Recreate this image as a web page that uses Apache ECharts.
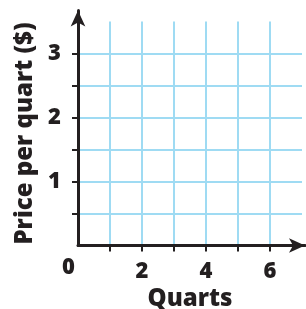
<!DOCTYPE html>
<html lang="en">
<head>
    <meta charset="UTF-8">
    <title>Price per quart</title>
    <script src="https://cdn.jsdelivr.net/npm/echarts@6/dist/echarts.min.js"></script>
    <style>
        html, body { margin: 0; padding: 0; background: #fff; }
        #main { width: 306px; height: 309px; }
    </style>
</head>
<body>
<div id="main"></div>
<script type="text/javascript">
    // axis ranges and tick/label values
    var xRange = [0, 7];
    var yRange = [0, 3.5];
    var xTicks = [1, 2, 3, 4, 5, 6];
    var yTicks = [0.5, 1, 1.5, 2, 2.5, 3];
    var xLabels = [0, 2, 4, 6];
    var yLabels = [1, 2, 3];
    var xName = 'Quarts';
    var yName = 'Price per quart ($)';

    var ink = '#231f20';
    var gridBlue = '#9fdbf3';
    var font = 'Open Sans';

    var myChart = echarts.init(document.getElementById('main'));

    var option = {
        animation: false,
        grid: [
            {left: 78, right: 4, top: 21.5, bottom: 63.5, outerBoundsMode: 'none'},
            // only for the long axis lines with arrows
            {left: 78, right: 1, top: 10.5, bottom: 63.5, outerBoundsMode: 'none'}
        ],
        xAxis: [
            {
                gridIndex: 0,
                type: 'value',
                min: xRange[0],
                max: xRange[1],
                interval: 1,
                name: xName,
                nameLocation: 'middle',
                nameGap: 39,
                nameTextStyle: {color: ink, fontFamily: font, fontWeight: 800, fontSize: 24},
                axisLine: {show: false},
                // split lines follow these custom tick values
                axisTick: {show: true, inside: false, length: 6, customValues: xTicks,
                    lineStyle: {color: ink, width: 2}},
                axisLabel: {
                    customValues: xLabels,
                    margin: 11,
                    formatter: function (v) {
                        return v === 0 ? '{z|0}' : '{n|' + v + '}';
                    },
                    rich: {
                        n: {color: ink, fontFamily: font, fontWeight: 800, fontSize: 22, padding: [4, 0, 0, 0]},
                        z: {color: ink, fontFamily: font, fontWeight: 800, fontSize: 22, padding: [0, 19, 2, 0]}
                    }
                },
                splitLine: {show: true, lineStyle: {color: gridBlue, width: 2}}
            },
            {
                gridIndex: 0,
                type: 'value',
                min: xRange[0],
                max: xRange[1],
                interval: 1,
                axisLine: {show: false},
                axisTick: {show: true, inside: true, length: 6, customValues: xTicks,
                    lineStyle: {color: ink, width: 2}},
                axisLabel: {show: false},
                splitLine: {show: false}
            },
            {
                gridIndex: 1,
                type: 'value',
                min: 0,
                max: 1,
                axisLine: {show: true, symbol: ['none', 'arrow'], symbolSize: [11, 16],
                    lineStyle: {color: ink, width: 3}},
                axisTick: {show: false},
                axisLabel: {show: false},
                splitLine: {show: false}
            }
        ],
        yAxis: [
            {
                gridIndex: 0,
                type: 'value',
                min: yRange[0],
                max: yRange[1],
                interval: 0.5,
                name: yName,
                nameLocation: 'middle',
                nameGap: 41,
                nameTextStyle: {color: ink, fontFamily: font, fontWeight: 800, fontSize: 24},
                axisLine: {show: false},
                axisTick: {show: true, inside: false, length: 6, customValues: yTicks,
                    lineStyle: {color: ink, width: 2}},
                axisLabel: {
                    customValues: yLabels,
                    margin: 17,
                    color: ink, fontFamily: font, fontWeight: 800, fontSize: 22
                },
                splitLine: {show: true, lineStyle: {color: gridBlue, width: 2}}
            },
            {
                gridIndex: 0,
                type: 'value',
                min: yRange[0],
                max: yRange[1],
                interval: 0.5,
                axisLine: {show: false},
                axisTick: {show: true, inside: true, length: 6, customValues: yTicks,
                    lineStyle: {color: ink, width: 2}},
                axisLabel: {show: false},
                splitLine: {show: false}
            },
            {
                gridIndex: 1,
                type: 'value',
                min: 0,
                max: 1,
                axisLine: {show: true, symbol: ['none', 'arrow'], symbolSize: [11, 16],
                    lineStyle: {color: ink, width: 3}},
                axisTick: {show: false},
                axisLabel: {show: false},
                splitLine: {show: false}
            }
        ],
        series: []
    };
    myChart.setOption(option);
</script>
</body>
</html>
